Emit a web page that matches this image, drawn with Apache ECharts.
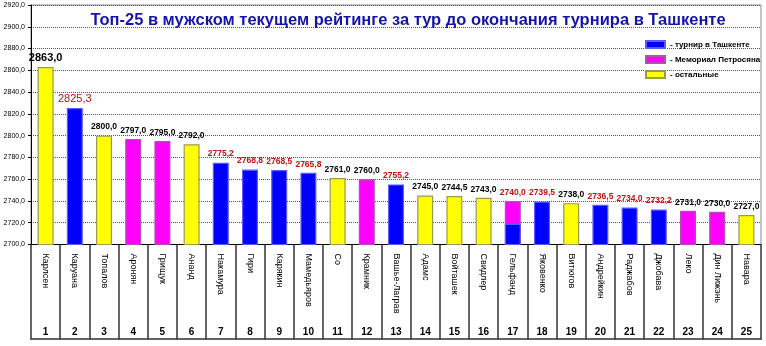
<!DOCTYPE html>
<html>
<head>
<meta charset="utf-8">
<script src="https://cdn.jsdelivr.net/npm/echarts@6/dist/echarts.min.js"></script>
<style>
  html, body { margin: 0; padding: 0; background: #fff; }
  #chart { width: 766px; height: 346px; }
</style>
</head>
<body>
<div id="chart"></div>
<script>
// Top-25 players, rating for the round before the end of the Tashkent event
const players = ['Карлсен', 'Каруана', 'Топалов', 'Аронян', 'Грищук', 'Ананд', 'Накамура', 'Гири',
  'Карякин', 'Мамедьяров', 'Со', 'Крамник', 'Вашье-Лаграв', 'Адамс', 'Войташек', 'Свидлер',
  'Гельфанд', 'Яковенко', 'Витюгов', 'Андрейкин', 'Раджабов', 'Джобава', 'Леко', 'Дин Лижэнь', 'Навара'];
const places = ['1', '2', '3', '4', '5', '6', '7', '8', '9', '10', '11', '12', '13', '14', '15', '16',
  '17', '18', '19', '20', '21', '22', '23', '24', '25'];
const ratings = [2863.0, 2825.3, 2800.0, 2797.0, 2795.0, 2792.0, 2775.2, 2768.8, 2768.5, 2765.8,
  2761.0, 2760.0, 2755.2, 2745.0, 2744.5, 2743.0, 2740.0, 2739.5, 2738.0, 2736.5,
  2734.0, 2732.2, 2731.0, 2730.0, 2727.0];
// t = Tashkent, m = Petrosian Memorial, o = others
const groups = ['o', 't', 'o', 'm', 'm', 'o', 't', 't', 't', 't', 'o', 'm', 't', 'o', 'o', 'o',
  'm', 't', 'o', 't', 't', 't', 'm', 'm', 'o'];
// players currently in Tashkent (value labels in red)
const inTashkent = [0, 1, 0, 0, 0, 0, 1, 1, 1, 1, 0, 0, 1, 0, 0, 0, 1, 1, 0, 1, 1, 1, 0, 0, 0];
// lower Tashkent segment of a split bar
const tashkentSegment = [null, null, null, null, null, null, null, null, null, null, null, null, null,
  null, null, null, 2719, null, null, null, null, null, null, null, null];
const yTicks = { min: 2700, max: 2920, step: 20 };

const legendNames = {
  t: '- турнир в Ташкенте',
  m: '- Мемориал Петросяна',
  o: '- остальные'
};
const palette = {
  t: { color: '#0000ff', borderColor: '#5a5aff' },
  m: { color: '#ff00ff', borderColor: '#b050b0' },
  o: { color: '#ffff00', borderColor: '#9a9a50' }
};

const fmt = v => v.toFixed(1).replace('.', ',');

function labelFor(i) {
  const red = inTashkent[i] === 1;
  let size = 8.5, weight = 'bold';
  if (i === 0) { size = 11; }
  if (i === 1) { size = 11; weight = 'normal'; }
  return {
    show: true,
    position: 'top',
    distance: 4,
    color: red ? '#c01010' : '#000',
    fontSize: size,
    fontWeight: weight,
    fontFamily: 'Liberation Sans, Arial, sans-serif',
    formatter: () => fmt(ratings[i])
  };
}

function seriesFor(g, z) {
  const data = ratings.map((v, i) => {
    if (groups[i] === g) return { value: v, label: labelFor(i) };
    if (g === 't' && tashkentSegment[i] != null) return { value: tashkentSegment[i], label: { show: false } };
    return '-';
  });
  return {
    name: legendNames[g],
    type: 'bar',
    xAxisIndex: 0,
    barWidth: 16,
    barGap: '-100%',
    z: z,
    itemStyle: { color: palette[g].color, borderColor: palette[g].borderColor, borderWidth: 1.2 },
    label: { show: false },
    data: data
  };
}

const chart = echarts.init(document.getElementById('chart'), null, { renderer: 'canvas' });
chart.setOption({
  animation: false,
  backgroundColor: '#fff',
  title: {
    text: 'Топ-25 в мужском текущем рейтинге за тур до окончания турнира в Ташкенте',
    left: 403,
    textAlign: 'center',
    top: 7,
    textStyle: { color: '#1414a8', fontSize: 16.5, fontWeight: 'bold', fontFamily: 'Liberation Sans, Arial, sans-serif' }
  },
  legend: {
    orient: 'vertical',
    left: 645,
    top: 40,
    padding: 0,
    itemWidth: 19,
    itemHeight: 7,
    itemGap: 6,
    itemTextGap: 6,
    icon: 'rect',
    selectedMode: false,
    data: [legendNames.t, legendNames.m, legendNames.o],
    textStyle: { color: '#000', fontSize: 8, fontWeight: 'bold', fontFamily: 'Liberation Sans, Arial, sans-serif' }
  },
  grid: {
    left: 31,
    right: 5,
    top: 5,
    bottom: 101.5,
    show: true,
    borderColor: '#8a8a8a',
    borderWidth: 1
  },
  xAxis: [
    {
      type: 'category',
      data: players,
      position: 'bottom',
      axisLine: { show: true, lineStyle: { color: '#000', width: 1 } },
      axisTick: { show: true, interval: 0, length: 95, lineStyle: { color: '#333', width: 1.5 } },
      axisLabel: {
        interval: 0,
        rotate: -90,
        margin: 9,
        fontSize: 9,
        color: '#000',
        fontFamily: 'Liberation Sans, Arial, sans-serif'
      },
      splitLine: { show: false }
    },
    {
      type: 'category',
      data: places,
      position: 'bottom',
      offset: 94.5,
      axisLine: { show: true, lineStyle: { color: '#333', width: 1.5 } },
      axisTick: { show: false },
      axisLabel: {
        interval: 0,
        inside: true,
        margin: 2,
        fontSize: 10,
        fontWeight: 'bold',
        color: '#000',
        fontFamily: 'Liberation Sans, Arial, sans-serif'
      },
      splitLine: { show: false }
    }
  ],
  yAxis: {
    type: 'value',
    min: yTicks.min,
    max: yTicks.max,
    interval: yTicks.step,
    axisLine: { show: true, lineStyle: { color: '#000', width: 1 } },
    axisTick: { show: true, length: 3, lineStyle: { color: '#000' } },
    axisLabel: {
      formatter: v => fmt(v),
      fontSize: 7,
      margin: 6,
      color: '#000',
      fontFamily: 'Liberation Sans, Arial, sans-serif'
    },
    splitLine: { show: true, lineStyle: { type: 'dotted', color: '#555', width: 1 } }
  },
  series: [seriesFor('t', 3), seriesFor('m', 2), seriesFor('o', 2)]
});
</script>
</body>
</html>
